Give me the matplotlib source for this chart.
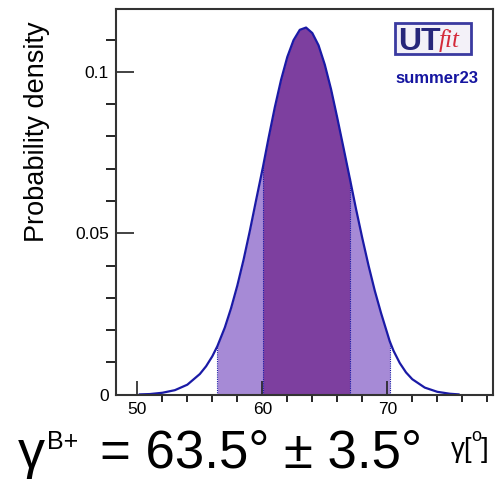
import matplotlib
matplotlib.use("Agg")
import matplotlib.pyplot as plt
import numpy as np
from matplotlib.patches import Rectangle
from matplotlib.ticker import MultipleLocator

plt.rcParams['font.family'] = ['Liberation Sans', 'DejaVu Sans']

# gamma values (degrees) and probability density
gamma = [50.2, 51.0, 52.0, 53.0, 54.0, 55.0, 55.5, 56.0, 56.4, 57.0, 57.5,
         58.0, 58.5, 59.0, 59.5, 60.05, 60.5, 61.0, 61.5, 62.0, 62.5, 63.0,
         63.5, 64.0, 64.5, 65.0, 65.5, 66.0, 66.5, 67.0, 67.5, 68.0, 68.5,
         69.0, 69.5, 70.2, 70.5, 71.0, 71.5, 72.0, 73.0, 74.0, 75.0, 75.7]
density = [0.0001, 0.0002, 0.0006, 0.0014, 0.0031, 0.0064, 0.0088, 0.0119,
           0.0150, 0.0208, 0.0268, 0.0338, 0.0418, 0.0507, 0.0602, 0.0705,
           0.0795, 0.0890, 0.0975, 0.1046, 0.1098, 0.1130, 0.1137, 0.1120,
           0.1082, 0.1022, 0.0946, 0.0857, 0.0764, 0.0670, 0.0575, 0.0485,
           0.0400, 0.0322, 0.0253, 0.0165, 0.0136, 0.0098, 0.0069, 0.0048,
           0.0022, 0.0009, 0.0003, 0.0001]

# probability regions (68% and 95%)
band68 = (60.05, 67.0)
band95 = (56.4, 70.2)

result = "= 63.5° ± 3.5°"

x = np.array(gamma)
y = np.array(density)

fig = plt.figure(figsize=(4.99, 4.83), dpi=100)
ax = fig.add_axes([0.2319, 0.1828, 0.7561, 0.7996])

light = '#a68ad6'
dark = '#7d3f9f'
line = '#1a1aa6'

m95 = (x >= band95[0]) & (x <= band95[1])
m68 = (x >= band68[0]) & (x <= band68[1])
ax.fill_between(x, 0, y, where=m95, color=light, lw=0)
ax.fill_between(x, 0, y, where=m68, color=dark, lw=0)
for b in band95 + band68:
    i = gamma.index(b)
    ax.vlines(b, 0, density[i], colors=line, linestyles=(0, (1, 1)), lw=0.8)
ax.plot(x, y, color=line, lw=1.6)

ax.set_xlim(48.27, 78.46)
ax.set_ylim(0, 0.1196)
ax.xaxis.set_major_locator(MultipleLocator(10))
ax.xaxis.set_minor_locator(MultipleLocator(2))
ax.yaxis.set_major_locator(MultipleLocator(0.05))
ax.yaxis.set_minor_locator(MultipleLocator(0.01))
ax.set_yticks([0, 0.05, 0.1])
ax.set_yticklabels(['0', '0.05', '0.1'])
ax.tick_params(direction='in', labelsize=12.5, color='#222222', width=1.2,
               top=False, right=False)
ax.tick_params(axis='x', which='major', length=10, pad=5)
ax.tick_params(axis='x', which='minor', length=5, width=1.2)
ax.tick_params(axis='y', which='major', length=13, pad=5)
ax.tick_params(axis='y', which='minor', length=7, width=1.2)
for s in ax.spines.values():
    s.set_color('#333333')
    s.set_linewidth(1.5)

fig.text(37 / 499, 1 - 132 / 483, "Probability density", rotation=90,
         ha='center', va='center', fontsize=19.5)

# x label
fig.text(451 / 499, 1 - 457 / 483, "γ[", fontsize=20, ha='left', va='baseline')
fig.text(471 / 499, 1 - 441 / 483, "o", fontsize=13, ha='left', va='baseline')
fig.text(481 / 499, 1 - 457 / 483, "]", fontsize=20, ha='left', va='baseline')

# result text
fig.text(18 / 499, 1 - 468 / 483, "γ", fontsize=39, ha='left', va='baseline')
fig.text(47 / 499, 1 - 449 / 483, "B+", fontsize=18, ha='left', va='baseline')
fig.text(100 / 499, 1 - 468 / 483, result, fontsize=38, ha='left', va='baseline')

# UTfit logo
fig.patches.append(Rectangle((395 / 499, 1 - 54 / 483), 76 / 499, 31 / 483,
                             transform=fig.transFigure, facecolor='#f3f1f8',
                             edgecolor='#3a3aa0', lw=2, zorder=5))
fig.text(398 / 499, 1 - 50 / 483, "UT", fontsize=23, fontweight='bold',
         color='#26267a', ha='left', va='baseline', zorder=6)
fig.text(439 / 499, 1 - 47 / 483, "fit", fontsize=18, fontstyle='italic',
         family='Liberation Serif', color='#d42a3a', ha='left',
         va='baseline', zorder=6)
fig.text(437 / 499, 1 - 83 / 483, "summer23", fontsize=12, fontweight='bold',
         color='#1515a0', ha='center', va='baseline')

fig.savefig("out.png", dpi=100)
